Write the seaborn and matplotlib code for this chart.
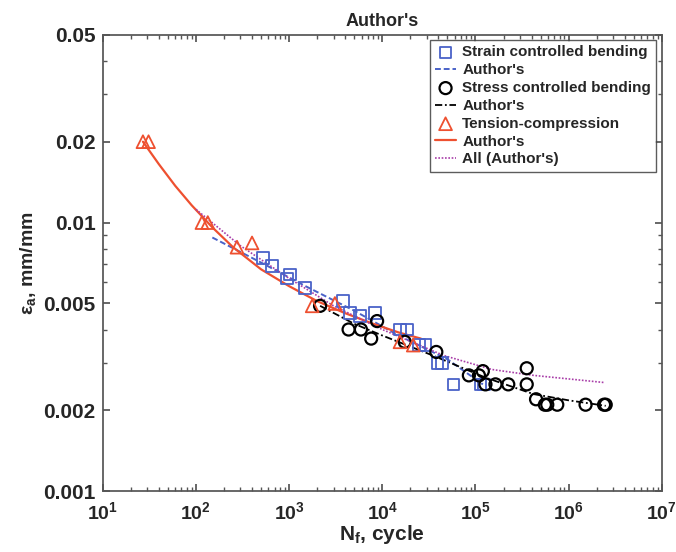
import matplotlib

matplotlib.use("Agg")
import matplotlib.pyplot as plt
import pandas as pd
import seaborn as sns
from matplotlib.ticker import FixedLocator, LogLocator, NullFormatter

# strain controlled bending (squares)
strain_n = [525, 660, 950, 1020, 1490, 3800, 4500, 5800, 8400, 15600, 18400,
            24600, 29000, 39000, 44000, 58000, 113000, 123000]
strain_eps = [0.0074, 0.0069, 0.0062, 0.0064, 0.0057, 0.0051, 0.0046, 0.0045,
              0.0046, 0.0040, 0.0040, 0.0035, 0.0035, 0.0030, 0.0030, 0.0025,
              0.0025, 0.0025]
strain_fit_n = [150, 500, 1500, 5000, 15000, 50000, 120000]
strain_fit_eps = [0.0088, 0.0071, 0.0058, 0.0047, 0.0038, 0.0031, 0.0025]

# stress controlled bending (circles)
stress_n = [2150, 4350, 5900, 7600, 8800, 17400, 38000, 85000, 109000, 120000,
            128000, 164000, 225000, 355000, 355000, 447000, 556000, 590000,
            755000, 1520000, 2400000, 2500000]
stress_eps = [0.0049, 0.0040, 0.0040, 0.0037, 0.0043, 0.0036, 0.0033, 0.0027,
              0.0027, 0.0028, 0.0025, 0.0025, 0.0025, 0.00287, 0.0025, 0.0022,
              0.0021, 0.0021, 0.0021, 0.0021, 0.0021, 0.0021]
stress_fit_n = [2150, 5000, 10000, 35000, 128000, 420000, 1000000, 2500000]
stress_fit_eps = [0.0049, 0.0042, 0.0038, 0.0032, 0.00265, 0.0023, 0.00218, 0.00208]

# tension-compression (triangles)
tc_n = [27, 31, 116, 134, 276, 400, 1770, 3100, 15500, 21500]
tc_eps = [0.0200, 0.0200, 0.0100, 0.0100, 0.0081, 0.0084, 0.0049, 0.0050,
          0.0036, 0.0035]
tc_fit_n = [27, 40, 60, 90, 150, 250, 500, 1000, 2000, 4000, 8000, 15000, 26000]
tc_fit_eps = [0.0200, 0.0165, 0.0137, 0.0116, 0.0096, 0.0081, 0.0067, 0.0058,
              0.0051, 0.0046, 0.0042, 0.0039, 0.0037]

# all data fit
all_fit_n = [100, 300, 1000, 3000, 10000, 46000, 150000, 420000, 2400000]
all_fit_eps = [0.0112, 0.0082, 0.0062, 0.0049, 0.0040, 0.0032, 0.00284,
               0.0027, 0.00254]

y_ticks = [0.001, 0.002, 0.005, 0.01, 0.02, 0.05]
y_tick_labels = ["0.001", "0.002", "0.005", "0.01", "0.02", "0.05"]
x_ticks = [1e1, 1e2, 1e3, 1e4, 1e5, 1e6, 1e7]
x_tick_labels = [r"$\mathbf{10^{%d}}$" % k for k in range(1, 8)]

BLUE = "#4a62c8"
RED = "#ee5030"
PURPLE = "#a83ca8"


def main() -> None:
    sns.set_theme(style="ticks")
    plt.rcParams.update({
        "font.family": ["Liberation Sans", "DejaVu Sans"],
        "font.weight": "bold",
        "mathtext.fontset": "custom",
        "mathtext.rm": "Liberation Sans:bold",
        "mathtext.bf": "Liberation Sans:bold",
        "mathtext.it": "Liberation Sans:bold",
        "axes.edgecolor": "#555555",
        "xtick.direction": "in",
        "ytick.direction": "in",
    })

    fig = plt.figure(figsize=(6.76, 5.52), dpi=100)
    ax = fig.add_axes([0.152, 0.11, 0.827, 0.827])
    ax.set_xscale("log")
    ax.set_yscale("log")

    strain = pd.DataFrame({"n": strain_n, "eps": strain_eps})
    strain_fit = pd.DataFrame({"n": strain_fit_n, "eps": strain_fit_eps})
    stress = pd.DataFrame({"n": stress_n, "eps": stress_eps})
    stress_fit = pd.DataFrame({"n": stress_fit_n, "eps": stress_fit_eps})
    tc = pd.DataFrame({"n": tc_n, "eps": tc_eps})
    tc_fit = pd.DataFrame({"n": tc_fit_n, "eps": tc_fit_eps})
    all_fit = pd.DataFrame({"n": all_fit_n, "eps": all_fit_eps})

    sns.scatterplot(data=strain, x="n", y="eps", ax=ax, marker="s", s=70,
                    facecolor="none", edgecolor=BLUE, linewidth=1.3,
                    label="Strain controlled bending", zorder=3)
    sns.lineplot(data=strain_fit, x="n", y="eps", ax=ax, color=BLUE,
                 linestyle=(0, (3, 1.5)), linewidth=1.4, label="Author's",
                 estimator=None)
    sns.scatterplot(data=stress, x="n", y="eps", ax=ax, marker="o", s=75,
                    facecolor="none", edgecolor="black", linewidth=1.6,
                    label="Stress controlled bending", zorder=3)
    sns.lineplot(data=stress_fit, x="n", y="eps", ax=ax, color="black",
                 linestyle=(0, (4, 1.5, 1, 1.5)), linewidth=1.3,
                 label="Author's", estimator=None)
    sns.scatterplot(data=tc, x="n", y="eps", ax=ax, marker="^", s=85,
                    facecolor="none", edgecolor=RED, linewidth=1.3,
                    label="Tension-compression", zorder=3)
    sns.lineplot(data=tc_fit, x="n", y="eps", ax=ax, color=RED,
                 linewidth=1.6, label="Author's", estimator=None)
    sns.lineplot(data=all_fit, x="n", y="eps", ax=ax, color=PURPLE,
                 linestyle=(0, (1, 1)), linewidth=1.2,
                 label="All (Author's)", estimator=None)

    ax.set_xlim(1e1, 1e7)
    ax.set_ylim(0.001, 0.05)
    ax.xaxis.set_major_locator(FixedLocator(x_ticks))
    ax.set_xticklabels(x_tick_labels)
    ax.xaxis.set_minor_locator(LogLocator(base=10, subs=range(2, 10), numticks=20))
    ax.xaxis.set_minor_formatter(NullFormatter())
    ax.yaxis.set_major_locator(FixedLocator(y_ticks))
    ax.set_yticklabels(y_tick_labels)
    ax.yaxis.set_minor_locator(LogLocator(base=10, subs=range(2, 10), numticks=20))
    ax.yaxis.set_minor_formatter(NullFormatter())
    ax.tick_params(which="both", top=True, right=True, color="#555555")
    ax.tick_params(axis="x", labelsize=14, pad=7)
    ax.tick_params(axis="y", labelsize=15, pad=5)
    ax.tick_params(which="major", length=5)
    ax.tick_params(which="minor", length=3)
    for lab in ax.get_xticklabels() + ax.get_yticklabels():
        lab.set_fontweight("bold")

    ax.set_title("Author's", fontsize=13, fontweight="bold", pad=6)
    ax.set_xlabel(r"N$_\mathregular{f}$, cycle", fontsize=15, fontweight="bold",
                  labelpad=0)
    ax.set_ylabel(r"$\epsilon_a$, mm/mm", fontsize=14, fontweight="bold",
                  labelpad=4)

    leg = ax.legend(loc="upper right", fontsize=11, frameon=True, fancybox=False,
                    borderaxespad=0.35, handlelength=1.4, handletextpad=0.4,
                    labelspacing=0.25, borderpad=0.35)
    leg.get_frame().set_edgecolor("#333333")
    leg.get_frame().set_linewidth(1.0)
    for t in leg.get_texts():
        t.set_fontweight("bold")

    fig.savefig("out.png", dpi=100)
    plt.close(fig)


if __name__ == "__main__":
    main()
